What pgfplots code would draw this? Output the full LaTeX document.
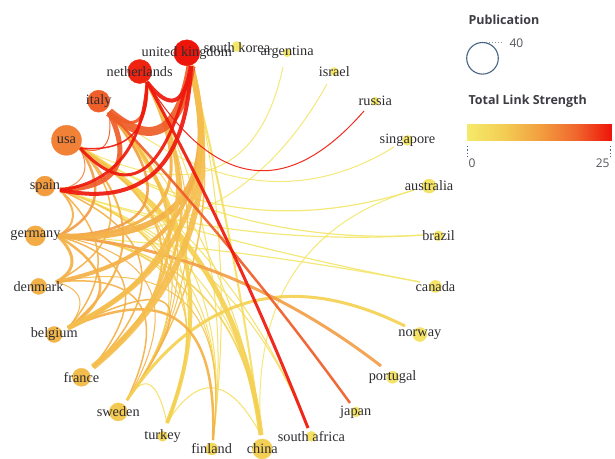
\documentclass[border=0pt]{standalone}
\usepackage{fontspec}
\setmainfont{Liberation Serif}
\newfontfamily\legendfont{Open Sans}
\usepackage{pgfplots}
\pgfplotsset{compat=1.18}

% edge colours, from the red of the strongest countries to pale yellow
\definecolor{cR}{RGB}{238,24,12}
\definecolor{cOR}{RGB}{238,92,40}
\definecolor{cO1}{RGB}{240,130,60}
\definecolor{cO2}{RGB}{242,158,70}
\definecolor{cO3}{RGB}{244,176,72}
\definecolor{cO4}{RGB}{245,190,78}
\definecolor{cY1}{RGB}{245,208,82}
\definecolor{cY2}{RGB}{244,222,96}
\definecolor{cY3}{RGB}{243,230,110}
\definecolor{labelgray}{RGB}{45,45,50}
\definecolor{titlegray}{RGB}{60,60,66}
\definecolor{legendgray}{RGB}{85,85,90}
\definecolor{pubblue}{RGB}{70,100,130}

% plot handler: three points (start, half way, end) give one quadratic arc
\makeatletter
\def\arcstart{\def\arc@n{0}}
\def\arcpoint#1{%
  \pgf@process{#1}%
  \ifcase\arc@n\relax
    \edef\arc@ax{\the\pgf@x}\edef\arc@ay{\the\pgf@y}%
    \pgfpathmoveto{\pgfqpoint{\arc@ax}{\arc@ay}}%
    \def\arc@n{1}%
  \or
    \edef\arc@mx{\the\pgf@x}\edef\arc@my{\the\pgf@y}%
    \def\arc@n{2}%
  \or
    \edef\arc@bx{\the\pgf@x}\edef\arc@by{\the\pgf@y}%
    \pgfpathquadraticcurveto
      {\pgfqpoint{\dimexpr\arc@mx*2-(\arc@ax+\arc@bx)/2\relax}{\dimexpr\arc@my*2-(\arc@ay+\arc@by)/2\relax}}%
      {\pgfqpoint{\arc@bx}{\arc@by}}%
    \def\arc@n{3}%
  \fi}
\pgfdeclareplothandler{\pgfplothandlerthreepointarc}{}{%
  start macro=\arcstart, point macro=\arcpoint, jump macro=\arcstart}
\tikzset{three point arc/.code={\def\tikz@plot@handler{\pgfplothandlerthreepointarc}}}
\makeatother

% one link: start, point half way along the arc, end, width, colour
\newcommand\edge[5]{\addplot[three point arc,line width=#4pt,draw=#5,opacity=0.92] coordinates {#1 #2 #3};}

\begin{document}
\begin{tikzpicture}
\begin{axis}[
  scale only axis, width=615pt, height=458pt,
  xmin=0, xmax=615, ymin=0, ymax=458, y dir=reverse,
  hide axis, clip=false,
  colormap={tls}{rgb255=(245,234,106) rgb255=(243,206,84) rgb255=(242,160,64) rgb255=(240,104,46) rgb255=(238,22,10)},
  point meta min=0, point meta max=25,
]
\path (axis cs:0,0) rectangle (axis cs:615,458);

% ---- weak links (pale yellow)
\edge{(283,67)}{(215,168)}{(80,148)}{1}{cY3}
\edge{(327,84)}{(215,203)}{(58,236)}{1}{cY3}
\edge{(109,112)}{(255,180)}{(394,147)}{1}{cY3}
\edge{(80,148)}{(242,208)}{(414,190)}{1.2}{cY3}
\edge{(60,190)}{(239,230)}{(423,235)}{1.2}{cY3}
\edge{(80,148)}{(244,219)}{(423,235)}{1.2}{cY3}
\edge{(58,236)}{(238,253)}{(420,282)}{1.2}{cY3}
\edge{(60,190)}{(238.5,241.5)}{(420,282)}{1.2}{cY3}
\edge{(261,435)}{(292,276)}{(414,190)}{1}{cY3}
\edge{(80,148)}{(215,268)}{(308,428)}{1}{cY2}
\edge{(167,423)}{(214,388)}{(261,435)}{1}{cY2}
\edge{(127,400)}{(150,385)}{(167,423)}{1}{cY2}
\edge{(191,66)}{(219.5,250)}{(213,440)}{1}{cY2}
\edge{(147,82)}{(208.5,254)}{(213,440)}{1}{cY2}
\edge{(191,66)}{(231.5,249)}{(261,435)}{2}{cY2}
\edge{(109,112)}{(211,260)}{(261,435)}{1}{cY2}
\edge{(80,148)}{(192,270)}{(213,440)}{1}{cY2}
\edge{(60,190)}{(199,280)}{(261,435)}{1}{cY2}
\edge{(80,148)}{(180,266)}{(167,423)}{1}{cY2}
\edge{(60,190)}{(210.5,278)}{(308,428)}{1}{cY2}
\edge{(60,190)}{(187,281)}{(213,440)}{1}{cY2}
\edge{(58,236)}{(186,292)}{(213,440)}{1}{cY1}
\edge{(58,236)}{(198,291)}{(261,435)}{1.5}{cY1}
\edge{(56,282)}{(186,304)}{(213,440)}{1}{cO4}

% ---- links to sweden and turkey
\edge{(80,148)}{(170,260)}{(127,400)}{1}{cO4}
\edge{(191,66)}{(198,240)}{(127,400)}{1.5}{cO4}
\edge{(147,82)}{(187,244)}{(127,400)}{1}{cO4}
\edge{(109,112)}{(177.5,251.5)}{(127,400)}{1}{cO4}
\edge{(60,190)}{(165,271)}{(127,400)}{1}{cY1}
\edge{(58,236)}{(150,290)}{(127,400)}{1}{cO3}
\edge{(68,328)}{(167,305)}{(127,400)}{1.5}{cO3}
\edge{(56,282)}{(140,305)}{(127,400)}{1.5}{cO3}
\edge{(60,190)}{(175,277)}{(167,423)}{1.5}{cY1}
\edge{(58,236)}{(175,288)}{(167,423)}{1}{cY1}

% ---- strong yellow links
\edge{(109,112)}{(186,262)}{(167,423)}{4}{cY1}
\edge{(80,148)}{(204,269)}{(261,435)}{5}{cY1}
\edge{(127,400)}{(250,302)}{(405,326)}{3}{cY1}

% ---- orange links
\edge{(68,328)}{(180,322)}{(213,440)}{2.5}{cO3}
\edge{(58,236)}{(226,276)}{(381,366)}{3}{cO2}
\edge{(58,236)}{(72,262)}{(56,282)}{3}{cO3}
\edge{(58,236)}{(100,283)}{(68,328)}{2.5}{cO3}
\edge{(56,282)}{(79.5,299)}{(68,328)}{1}{cO3}
\edge{(58,236)}{(124,285)}{(93,367)}{1.5}{cO3}
\edge{(60,190)}{(141,266)}{(93,367)}{1.5}{cO3}
\edge{(80,148)}{(162,252)}{(93,367)}{2}{cO4}
\edge{(60,190)}{(98,257)}{(68,328)}{1.5}{cO3}
\edge{(80,148)}{(123,241)}{(68,328)}{2}{cO3}
\edge{(80,148)}{(110,223)}{(56,282)}{1.5}{cO3}
\edge{(60,190)}{(73,216)}{(58,236)}{2}{cO3}
\edge{(80,148)}{(94,200)}{(58,236)}{2.5}{cO2}
\edge{(80,148)}{(83,175)}{(60,190)}{1}{cO1}
\edge{(109,112)}{(145,203)}{(58,236)}{2.5}{cO2}
\edge{(147,82)}{(163,199)}{(58,236)}{3}{cO3}
\edge{(191,66)}{(181,199)}{(58,236)}{6}{cO3}
\edge{(191,66)}{(180,210)}{(56,282)}{4}{cO3}
\edge{(191,66)}{(183,222)}{(68,328)}{5}{cO4}
\edge{(147,82)}{(172,226)}{(68,328)}{4}{cO4}
\edge{(191,66)}{(189.5,232)}{(93,367)}{6}{cO4}
\edge{(147,82)}{(178.5,236)}{(93,367)}{2.5}{cO4}
\edge{(109,112)}{(169,243)}{(93,367)}{3}{cO4}

% ---- red and orange-red links
\edge{(109,112)}{(233,252)}{(350,403)}{2.5}{cOR}
\edge{(109,112)}{(105,145)}{(80,148)}{1}{cOR}
\edge{(109,112)}{(115,169)}{(60,190)}{5}{cOR}
\edge{(147,82)}{(138,120)}{(109,112)}{3}{cOR}
\edge{(191,66)}{(162,128)}{(109,112)}{9}{cOR}
\edge{(147,82)}{(132,135)}{(80,148)}{1.5}{cR}
\edge{(191,66)}{(145,168)}{(80,148)}{3}{cR}
\edge{(191,66)}{(155,172)}{(60,190)}{4}{cR}
\edge{(147,82)}{(122,158)}{(60,190)}{3}{cR}
\edge{(191,66)}{(175,100)}{(147,82)}{4}{cR}
\edge{(147,82)}{(232,251)}{(308,428)}{3}{cR}
\edge{(147,82)}{(252,170)}{(364,111)}{1}{cR}

% ---- countries: circle radius from publications, colour from total link strength
\addplot[scatter, only marks, mark=*, scatter src=explicit,
  scatter/use mapped color={draw=mapped color, fill=mapped color},
  visualization depends on={\thisrow{r} \as \rr},
  scatter/@pre marker code/.append style={/tikz/mark size=\rr pt}]
  table[x=x, y=y, meta=tls] {
x     y     r   tls
237.0 46.5  5   0.5
287.2 52.8  4   0.8
334.3 71.5  4   0.8
375.3 101.2 4   1.0
407.5 140.3 5   0.8
429.1 186.1 7   1.5
438.6 235.8 5   1.2
435.4 286.4 6   1.5
419.8 334.5 7   1.5
392.6 377.3 6   1.5
355.7 411.9 5   1.5
311.4 436.3 5   2.0
262.3 448.9 10  6.0
211.7 448.9 6   4.0
162.6 436.3 5   4.5
118.3 411.9 9   7.0
81.4  377.3 9   8.5
54.2  334.5 8   9.5
38.6  286.4 8   10
35.4  235.8 10  11
44.9  186.1 10  13
66.5  140.3 15  16
98.7  101.2 11  19.5
139.7 71.5  12  24
186.8 52.8  13  25
};

% ---- country names, set over the circles
\addplot[only marks, mark=*, mark size=0pt, mark options={draw=none, fill=none},
  nodes near coords, point meta=explicit symbolic,
  every node near coord/.append style={anchor=center, font=\fontsize{14.3}{16}\selectfont, text=labelgray}]
  table[x=x, y=y, meta=name, col sep=comma] {
x,y,name
237.0,47.5,south korea
287.2,52.8,argentina
334.3,71.5,israel
375.3,101.2,russia
407.5,140.3,singapore
429.1,186.1,australia
438.6,235.8,brazil
435.4,286.4,canada
419.8,334.5,norway
392.6,377.3,portugal
355.7,411.9,japan
311.4,436.3,south africa
262.3,448.9,china
211.7,448.9,finland
162.6,436.3,turkey
118.3,411.9,sweden
81.4,377.3,france
54.2,334.5,belgium
38.6,286.4,denmark
35.4,235.8,germany
44.9,186.1,spain
66.5,140.3,usa
98.7,101.2,italy
139.7,71.5,netherlands
186.8,52.8,united kingdom
};

% ---- legend: publication size
\node[anchor=west, font=\legendfont\bfseries\fontsize{12.5}{14}\selectfont, text=titlegray] at (axis cs:465,20) {Publication};
\addplot[only marks, mark=o, mark size=15.8pt, mark options={draw=pubblue, line width=1.1pt}] coordinates {(482.5,58.3)};
\addplot[pubblue!70, dotted, line width=0.9pt] coordinates {(486,42.5) (503,42.5)};
\node[anchor=west, font=\legendfont\fontsize{12}{14}\selectfont, text=legendgray] at (axis cs:506,43) {40};

% ---- legend: total link strength
\node[anchor=west, font=\legendfont\bfseries\fontsize{12.5}{14}\selectfont, text=titlegray] at (axis cs:465,101) {Total Link Strength};
\addplot[surf, shader=interp, mesh/rows=2, point meta=\thisrow{c}] table {
x   y   c
467 124 0
503 124 6.25
539 124 12.5
575 124 18.75
611 124 25
467 140 0
503 140 6.25
539 140 12.5
575 140 18.75
611 140 25
};
\addplot[pubblue, dotted, line width=1.3pt] coordinates {(467.8,146) (467.8,156)};
\addplot[pubblue, dotted, line width=1.3pt] coordinates {(610.2,146) (610.2,156)};
\node[anchor=west, font=\legendfont\fontsize{12}{14}\selectfont, text=legendgray] at (axis cs:465,163) {0};
\node[anchor=east, font=\legendfont\fontsize{12}{14}\selectfont, text=legendgray] at (axis cs:613,163) {25};
\end{axis}
\end{tikzpicture}
\end{document}
